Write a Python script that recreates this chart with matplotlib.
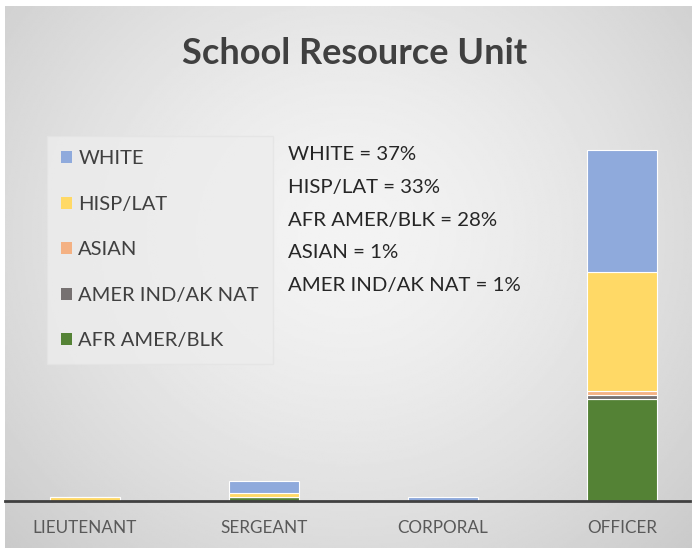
import numpy as np
import matplotlib
matplotlib.use("Agg")
import matplotlib.pyplot as plt
from matplotlib.patches import Patch

plt.rcParams['font.family'] = ['Lato', 'DejaVu Sans']

ranks = ['LIEUTENANT', 'SERGEANT', 'CORPORAL', 'OFFICER']
# stacked bottom -> top
afr_blk = [0, 1, 0, 25]
amer_ind = [0, 0, 0, 1]
asian = [0, 0, 0, 1]
hisp_lat = [1, 1, 0, 29]
white = [0, 3, 1, 30]

series = [
    ('AFR AMER/BLK', afr_blk, '#548235'),
    ('AMER IND/AK NAT', amer_ind, '#767171'),
    ('ASIAN', asian, '#f4b183'),
    ('HISP/LAT', hisp_lat, '#ffd966'),
    ('WHITE', white, '#8faadc'),
]
share_lines = ['WHITE = 37%', 'HISP/LAT = 33%', 'AFR AMER/BLK = 28%',
               'ASIAN = 1%', 'AMER IND/AK NAT = 1%']

W, H = 692, 548
fig = plt.figure(figsize=(W / 100, H / 100), dpi=100)

# gradient background (chart area starts a few px in from top/left)
bg = fig.add_axes([5 / W, 0, (W - 5) / W, (H - 6) / H])
yy, xx = np.mgrid[0:1:300j, 0:1:400j]
r = np.sqrt(((xx - 0.5) / 0.72) ** 2 + ((yy - 0.42) / 0.85) ** 2)
shade = 0.955 - 0.17 * np.clip(r, 0, 1) ** 1.5
bg.imshow(shade, cmap='gray', vmin=0, vmax=1, aspect='auto', extent=[0, 1, 0, 1])
bg.axis('off')

base_px = 501
top_px = 101
ax = fig.add_axes([5 / W, (H - base_px) / H, (690 - 5) / W, (base_px - top_px) / H])
ax.patch.set_alpha(0)
x = np.arange(len(ranks))
bottom = np.zeros(len(ranks))
for name, vals, col in series:
    v = np.array(vals, dtype=float)
    ax.bar(x, v, 0.39, bottom=bottom, color=col, edgecolor='white',
           linewidth=0.8, zorder=2)
    bottom += v
ax.set_ylim(0, 98)
ax.set_xlim((5 - 85) / 179, (690 - 85) / 179)
for s in ['top', 'right', 'left']:
    ax.spines[s].set_visible(False)
ax.spines['bottom'].set_color('#404040')
ax.spines['bottom'].set_linewidth(2)
ax.spines['bottom'].set_zorder(3)
ax.set_yticks([])
ax.set_xticks(x)
ax.set_xticklabels(ranks, fontsize=12.3, color='#595959')
ax.tick_params(axis='x', length=0, pad=14)

fig.text(355 / W, 1 - 53 / H, 'School Resource Unit', ha='center', va='center',
         fontsize=26, fontweight='bold', color='#404040')

# legend (top series first)
leg_items = [Patch(facecolor=c, edgecolor='none', label=n) for n, _, c in series[::-1]]
leg = fig.legend(handles=leg_items, loc='upper left',
                 bbox_to_anchor=(47 / W, 1 - 136 / H), frameon=True,
                 fontsize=14.5, labelspacing=1.42, handlelength=0.55, handleheight=0.55,
                 handletextpad=0.3, borderpad=0.7, borderaxespad=0)
leg.get_frame().set_facecolor('#ededed')
leg.get_frame().set_edgecolor('#e4e4e4')
leg.get_frame().set_boxstyle('square', pad=0)
for t in leg.get_texts():
    t.set_color('#404040')

for i, line in enumerate(share_lines):
    fig.text(288 / W, 1 - (155 + 32.5 * i) / H, line, ha='left', va='center',
             fontsize=14.7, color='#262626')

fig.savefig('out.png', dpi=100, facecolor='white')
